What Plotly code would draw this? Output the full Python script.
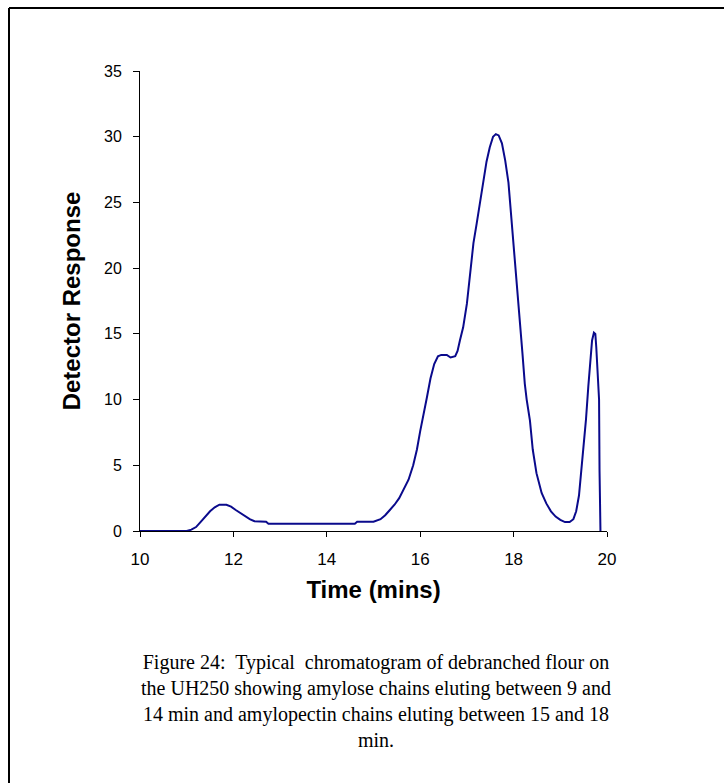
import plotly.graph_objects as go

time_min = [10.0, 11.0, 11.1, 11.2, 11.3, 11.4, 11.5, 11.6, 11.7, 11.85, 11.95, 12.05, 12.15,
            12.25, 12.35, 12.45, 12.6, 12.7, 12.75, 14.6, 14.65, 15.0, 15.15, 15.25, 15.35,
            15.45, 15.55, 15.65, 15.75, 15.85, 15.93, 16.0, 16.05, 16.14, 16.22, 16.3, 16.38,
            16.45, 16.57, 16.65, 16.75, 16.8, 16.85, 16.92, 17.0, 17.07, 17.14, 17.21, 17.28,
            17.35, 17.42, 17.49, 17.56, 17.62, 17.68, 17.75, 17.82, 17.89, 17.94, 17.99, 18.03,
            18.08, 18.14, 18.19, 18.24, 18.28, 18.35, 18.41, 18.49, 18.6, 18.7, 18.8, 18.9,
            19.0, 19.1, 19.2, 19.28, 19.34, 19.4, 19.45, 19.5, 19.55, 19.6, 19.64, 19.68,
            19.72, 19.75, 19.77, 19.8, 19.83, 19.84, 19.86]
response = [0.0, 0.0, 0.1, 0.3, 0.7, 1.1, 1.5, 1.8, 2.0, 2.0, 1.85, 1.6, 1.35,
            1.1, 0.9, 0.75, 0.7, 0.7, 0.55, 0.55, 0.7, 0.7, 0.9, 1.2, 1.6,
            2.0, 2.5, 3.2, 3.9, 5.0, 6.2, 7.6, 8.6, 10.1, 11.6, 12.7, 13.3,
            13.4, 13.4, 13.2, 13.3, 13.7, 14.5, 15.5, 17.3, 19.6, 21.9, 23.4, 24.9,
            26.6, 28.1, 29.2, 30.0, 30.2, 30.1, 29.5, 28.2, 26.5, 24.4, 22.4, 20.1,
            18.1, 15.5, 13.5, 11.2, 10.0, 8.4, 6.2, 4.4, 2.9, 2.1, 1.5, 1.1,
            0.85, 0.68, 0.68, 0.9, 1.5, 2.7, 4.5, 6.5, 8.5, 11.0, 13.0, 14.5,
            15.1, 15.0, 14.0, 11.5, 10.0, 4.6, 0.0]

x_ticks = [10, 12, 14, 16, 18, 20]
y_ticks = [0, 5, 10, 15, 20, 25, 30, 35]

caption = ("Figure 24:  Typical  chromatogram of debranched flour on<br>"
           "the UH250 showing amylose chains eluting between 9 and<br>"
           "14 min and amylopectin chains eluting between 15 and 18<br>"
           "min.")

fig = go.Figure()
fig.add_trace(go.Scatter(x=time_min, y=response, mode="lines",
                         line=dict(color="#0a0a8c", width=2), cliponaxis=False,
                         showlegend=False))

W, H = 724, 783
L, R, T, B = 140, 117, 71, 252
pw, ph = W - L - R, H - T - B

def px_x(p):
    return (p - L) / pw

def px_y(p):
    return (H - B - p) / ph

fig.update_layout(
    width=W, height=H,
    margin=dict(l=L, r=R, t=T, b=B),
    paper_bgcolor="white", plot_bgcolor="white",
    font=dict(family="Liberation Sans, Arial", color="black"),
    xaxis=dict(range=[10, 20], tickvals=x_ticks, ticktext=[str(v) for v in x_ticks],
               showgrid=False, zeroline=False, showline=True, linecolor="black", linewidth=1,
               ticks="outside", ticklen=5, tickcolor="black", tickfont=dict(size=17),
               ticklabelstandoff=8,
               title=dict(text="<b>Time (mins)</b>", font=dict(size=24), standoff=12)),
    yaxis=dict(range=[0, 35], tickvals=y_ticks, ticktext=[str(v) for v in y_ticks],
               showgrid=False, zeroline=False, showline=True, linecolor="black", linewidth=1,
               ticks="outside", ticklen=6, tickcolor="black", tickfont=dict(size=16),
               ticklabelstandoff=8,
               title=dict(text="<b>Detector Response</b>", font=dict(size=24), standoff=16)),
    shapes=[
        dict(type="line", xref="paper", yref="paper", x0=px_x(9), x1=px_x(760),
             y0=px_y(8), y1=px_y(8), line=dict(color="black", width=2)),
        dict(type="line", xref="paper", yref="paper", x0=px_x(9), x1=px_x(9),
             y0=px_y(8), y1=px_y(820), line=dict(color="black", width=2)),
    ],
    annotations=[
        dict(text=caption, xref="paper", yref="paper", x=px_x(376), y=px_y(649),
             xanchor="center", yanchor="top", showarrow=False, align="center",
             font=dict(family="Liberation Serif, Times New Roman", size=20, color="black"))
    ],
)

fig.write_html("out.html")
